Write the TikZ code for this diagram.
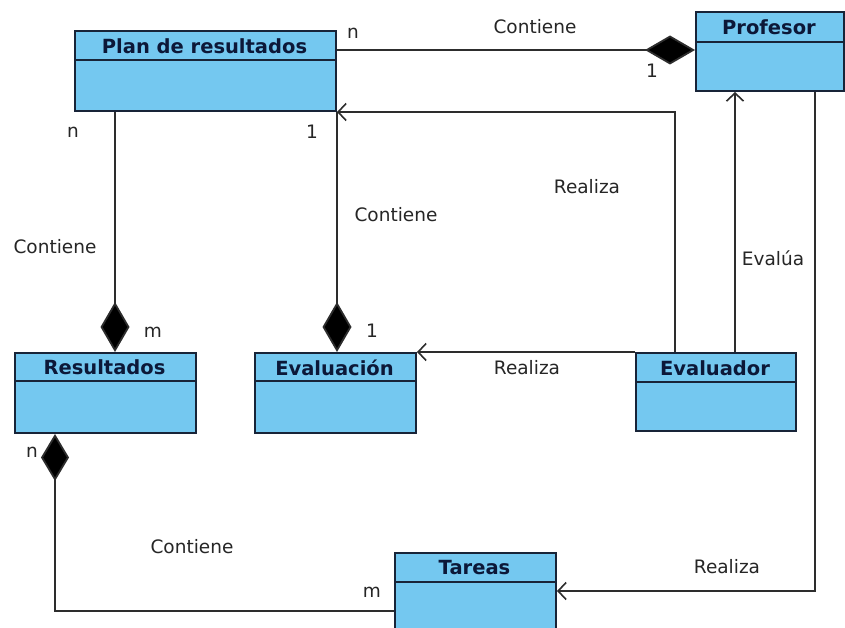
\documentclass[tikz,border=0pt]{standalone}
\usepackage{fontspec}
\setmainfont{DejaVu Sans}
\usetikzlibrary{arrows.meta}

\definecolor{boxfill}{RGB}{116,200,240}
\definecolor{boxline}{RGB}{24,36,56}
\definecolor{titlecol}{RGB}{12,24,56}
\definecolor{wire}{RGB}{45,45,45}

\tikzset{
  classbox/.style={draw=boxline, fill=boxfill, line width=2pt, inner sep=0pt},
  divider/.style={draw=boxline, line width=2pt},
  classtitle/.style={font=\fontsize{19.5}{22}\selectfont\bfseries, text=titlecol, inner sep=0pt},
  lbl/.style={font=\fontsize{18.5}{20}\selectfont, text=black!85, inner sep=0pt},
  wireline/.style={draw=wire, line width=1.8pt},
  comp/.style={wireline, -{Diamond[length=50pt,width=29pt,fill=black]}},
  compstart/.style={wireline, {Diamond[length=47pt,width=28pt,fill=black]}-},
  nav/.style={wireline, -{Straight Barb[length=8pt,width=17pt,line width=1.6pt]}},
}

% #1 name, #2 x1, #3 y1, #4 x2, #5 y2, #6 header divider y, #7 title
\newcommand\classbox[7]{%
  \node[classbox, anchor=north west,
        minimum width={(#4-#2)*1pt}, minimum height={(#5-#3)*1pt}]
        (#1) at (#2,#3) {};
  \draw[divider] (#2,#6) -- (#4,#6);
  \node[classtitle] (#1-title) at ({(#2+#4)/2},{(#3+#6)/2+1}) {#7};
}

\begin{document}
\begin{tikzpicture}[x=1pt,y=-1pt]
  \clip (0,0) rectangle (845,628);
  \fill[white] (0,0) rectangle (845,628);

  % classes
  \classbox{plan}{74}{30}{335}{110}{60}{Plan de resultados}
  \classbox{prof}{695}{11}{843}{90}{42}{Profesor}
  \classbox{res}{14}{352}{195}{432}{381}{Resultados}
  \classbox{eval}{254}{352}{415}{432}{381}{Evaluación}
  \classbox{evr}{635}{352}{795}{430}{382}{Evaluador}
  \classbox{tar}{394}{552}{555}{660}{582}{Tareas}

  % compositions
  \draw[comp] (plan.east |- 0,50) -- (prof.west |- 0,50);
  \draw[comp] (plan.south -| 115,0) -- (res.north -| 115,0);
  \draw[comp] (plan.south east) -- (eval.north -| plan.east);
  \draw[compstart] (res.south -| 55,0) |- (tar.west |- 0,611);

  % navigable associations
  \draw[nav] (evr.north -| 675,0) |- (plan.south east);
  \draw[nav] (evr.north -| 735,0) -- (prof.south -| 735,0);
  \draw[nav] (evr.north west) -- (eval.north east);
  \draw[nav] (prof.south -| 815,0) |- (tar.east |- 0,591);

  % association names
  \node[lbl] (l1) at (535,27) {Contiene};
  \node[lbl] (l2) at (55,247) {Contiene};
  \node[lbl] (l3) at (396,215) {Contiene};
  \node[lbl] (l4) at (192,547) {Contiene};
  \node[lbl] (l5) at (587,187) {Realiza};
  \node[lbl] (l6) at (527,368) {Realiza};
  \node[lbl] (l7) at (727,567) {Realiza};
  \node[lbl] (l8) at (773,258) {Evalúa};

  % multiplicities
  \node[lbl] (m1) at (353,33) {n};
  \node[lbl] (m2) at (652,71) {1};
  \node[lbl] (m3) at (73,132) {n};
  \node[lbl] (m4) at (312,132) {1};
  \node[lbl] (m5) at (153,332) {m};
  \node[lbl] (m6) at (372,331) {1};
  \node[lbl] (m7) at (32,452) {n};
  \node[lbl] (m8) at (372,592) {m};
\end{tikzpicture}
\end{document}
